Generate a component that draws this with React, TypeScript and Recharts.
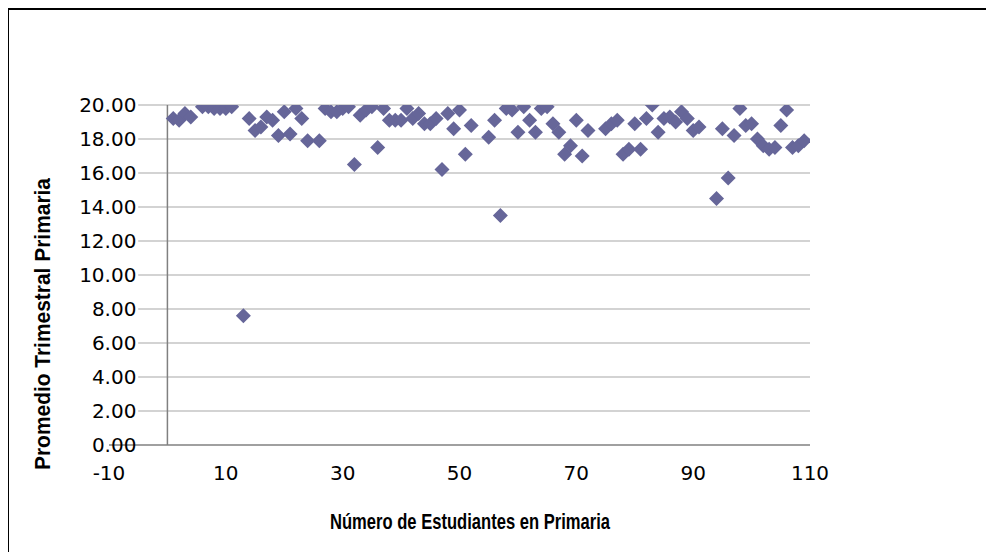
import { ScatterChart, Scatter, XAxis, YAxis, ReferenceLine } from "recharts"

// número de estudiante (eje X)
const studentNo = [
  1, 2, 3, 4, 6, 7, 8, 9, 10, 11, 13, 14, 15, 16, 17, 18, 19, 20, 21, 22, 23, 24, 26, 27, 28, 29, 30,
  31, 32, 33, 34, 35, 36, 37, 38, 39, 40, 41, 42, 43, 44, 45, 46, 47, 48, 49, 50, 51, 52, 55, 56, 57,
  58, 59, 60, 61, 62, 63, 64, 65, 66, 67, 68, 69, 70, 71, 72, 75, 76, 77, 78, 79, 80, 81, 82, 83, 84,
  85, 86, 87, 88, 89, 90, 91, 94, 95, 96, 97, 98, 99, 100, 101, 102, 103, 104, 105, 106, 107, 108, 109,
]

// promedio trimestral (eje Y)
const average = [
  19.2, 19.1, 19.5, 19.3, 19.9, 19.9, 19.8, 19.8, 19.8, 19.9, 7.6, 19.2, 18.5, 18.7, 19.3, 19.1, 18.2,
  19.6, 18.3, 19.8, 19.2, 17.9, 17.9, 19.8, 19.6, 19.6, 19.8, 19.9, 16.5, 19.4, 19.7, 19.9, 17.5, 19.8,
  19.1, 19.1, 19.1, 19.8, 19.2, 19.5, 18.9, 18.9, 19.2, 16.2, 19.5, 18.6, 19.7, 17.1, 18.8, 18.1, 19.1,
  13.5, 19.8, 19.7, 18.4, 19.9, 19.1, 18.4, 19.8, 19.9, 18.9, 18.4, 17.1, 17.6, 19.1, 17.0, 18.5, 18.6,
  18.9, 19.1, 17.1, 17.4, 18.9, 17.4, 19.2, 20.0, 18.4, 19.2, 19.3, 19.0, 19.6, 19.2, 18.5, 18.7, 14.5,
  18.6, 15.7, 18.2, 19.8, 18.8, 18.9, 18.0, 17.6, 17.4, 17.5, 18.8, 19.7, 17.5, 17.6, 17.9,
]

const xTicks = [-10, 10, 30, 50, 70, 90, 110]
const yTicks = [0, 2, 4, 6, 8, 10, 12, 14, 16, 18, 20]

const data = studentNo.map((n, i) => ({ n, avg: average[i] }))

const W = 994
const H = 552
const margin = { top: 105, right: 184, bottom: 67, left: 108 }
const plotLeft = 109
const plotWidth = W - margin.right - plotLeft
// el eje Y cruza en x = 0
const xZero = plotLeft + ((0 - -10) / 120) * plotWidth

const tickFont = { fontFamily: "DejaVu Sans", fontSize: 20, fill: "#000" }

function YTick(props: any) {
  const { y, payload } = props
  return (
    <text x={xZero - 31} y={y} textAnchor="end" dominantBaseline="central" {...tickFont}>
      {payload.value.toFixed(2)}
    </text>
  )
}

function Diamond(props: any) {
  const { cx, cy } = props
  const r = 7.5
  return (
    <polygon
      points={`${cx},${cy - r} ${cx + r},${cy} ${cx},${cy + r} ${cx - r},${cy}`}
      fill="#666699"
    />
  )
}

export default function App() {
  return (
    <>
      <style>{"html,body{overflow:hidden;background:#fff}"}</style>
      {/* marco del gráfico, sale por debajo de la ventana */}
      <div
        style={{
          position: "relative",
          marginLeft: -1,
          width: 983,
          height: 600,
          border: "2px solid #000",
          boxSizing: "border-box",
        }}
      >
        <div style={{ position: "absolute", left: -9, top: -10 }}>
          <ScatterChart width={W} height={H} margin={margin}>
            {yTicks
              .filter((v) => v > 0)
              .map((v) => (
                <ReferenceLine
                  key={v}
                  segment={[
                    { x: -5, y: v },
                    { x: 110, y: v },
                  ]}
                  stroke="#c4c4c4"
                  strokeWidth={1.5}
                />
              ))}
            <XAxis
              type="number"
              dataKey="n"
              domain={[-10, 110]}
              ticks={xTicks}
              interval={0}
              allowDataOverflow
              tickLine={false}
              tickSize={0}
              tickMargin={21}
              height={40}
              axisLine={{ stroke: "#808080", strokeWidth: 1.5 }}
              tick={tickFont}
            />
            <YAxis
              type="number"
              dataKey="avg"
              domain={[0, 20]}
              ticks={yTicks}
              interval={0}
              allowDataOverflow
              width={1}
              axisLine={false}
              tickLine={false}
              tick={<YTick />}
            />
            <ReferenceLine x={0} stroke="#808080" strokeWidth={1.5} />
            <Scatter data={data} shape={<Diamond />} isAnimationActive={false} />
          </ScatterChart>
          <svg width={W} height={H} style={{ position: "absolute", left: 0, top: 0, pointerEvents: "none" }}>
            <text
              x={470}
              y={521}
              textAnchor="middle"
              dominantBaseline="central"
              fontFamily="Liberation Sans"
              fontWeight="bold"
              fontSize={22}
              textLength={280}
              lengthAdjust="spacingAndGlyphs"
            >
              Número de Estudiantes en Primaria
            </text>
            <text
              x={42}
              y={324}
              transform="rotate(-90, 42, 324)"
              textAnchor="middle"
              dominantBaseline="central"
              fontFamily="Liberation Sans"
              fontWeight="bold"
              fontSize={22}
              textLength={292}
              lengthAdjust="spacingAndGlyphs"
            >
              Promedio Trimestral Primaria
            </text>
          </svg>
        </div>
      </div>
    </>
  )
}
